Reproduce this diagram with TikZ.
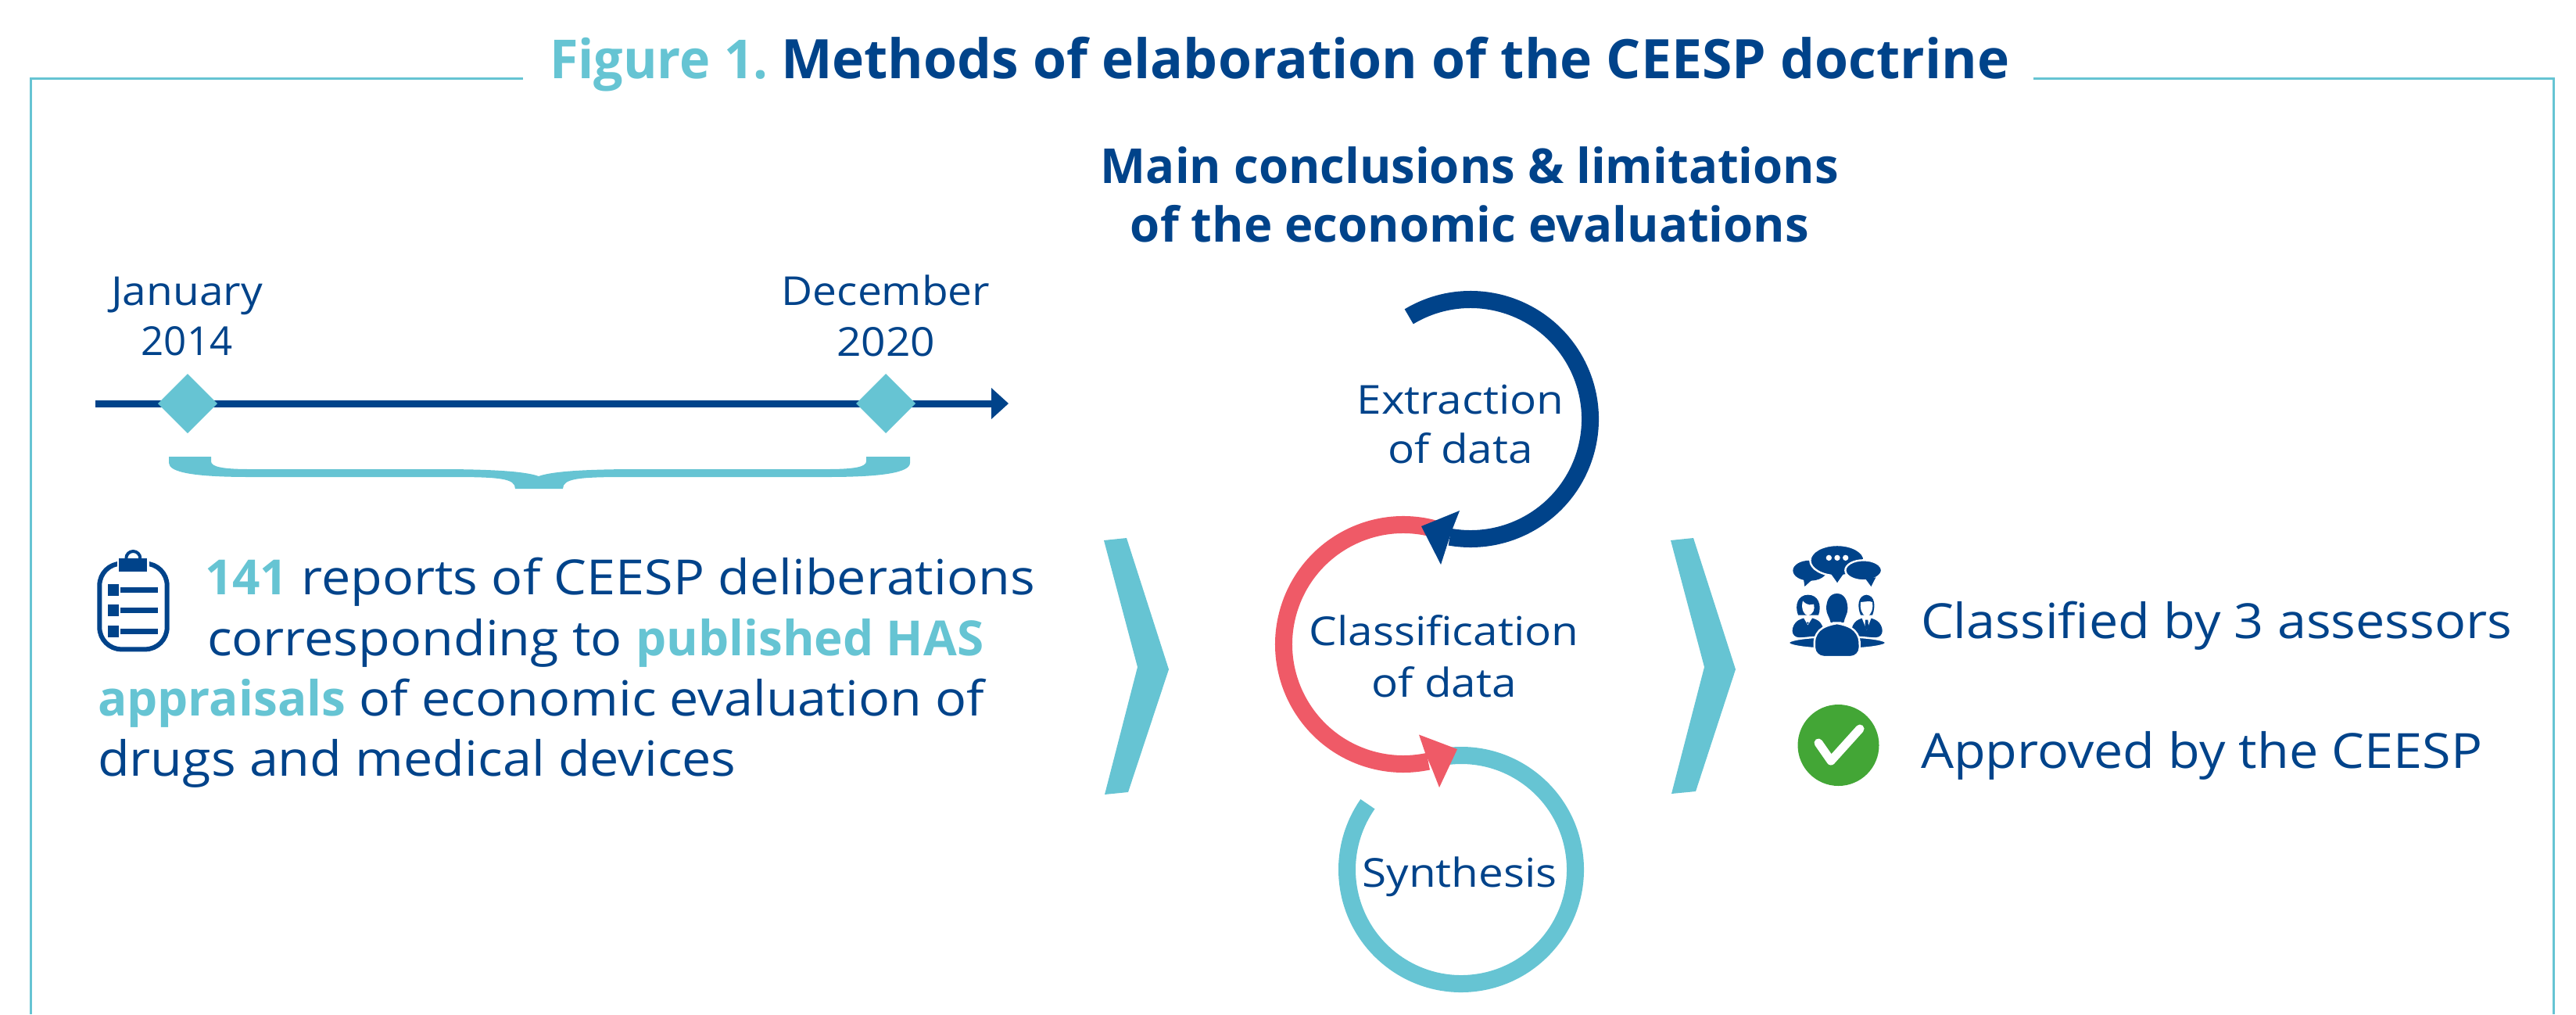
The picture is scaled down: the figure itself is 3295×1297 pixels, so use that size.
\documentclass[tikz,border=0pt]{standalone}
\usepackage{fontspec}
\setmainfont{Open Sans}
\newfontfamily\bodyf[FakeStretch=1.072]{Open Sans}
\newfontfamily\datef[FakeStretch=1.08]{Open Sans}
\newfontfamily\ringf[FakeStretch=1.11]{Open Sans}
\newfontfamily\figf[FakeStretch=0.965]{Open Sans}
\definecolor{navy}{HTML}{00438A}
\definecolor{teal2}{HTML}{66C4D3}
\definecolor{coral}{HTML}{EF5A67}
\definecolor{okgreen}{HTML}{43A636}
\tikzset{
  txt/.style={text=navy,inner sep=0pt,outer sep=0pt,anchor=base west,font=\fontsize{31}{38}\selectfont\bodyf},
  txtd/.style={text=navy,inner sep=0pt,outer sep=0pt,anchor=base,font=\fontsize{25.5}{32}\selectfont\datef},
  txtc/.style={text=navy,inner sep=0pt,outer sep=0pt,anchor=base,font=\fontsize{25.5}{32}\selectfont\ringf},
  head/.style={text=navy,inner sep=0pt,outer sep=0pt,anchor=base,font=\fontsize{30.8}{38}\selectfont\bfseries},
  ttl/.style={inner sep=0pt,outer sep=0pt,anchor=base west,font=\fontsize{34.8}{42}\selectfont\bfseries},
  ttlf/.style={inner sep=0pt,outer sep=0pt,anchor=base west,font=\fontsize{34.4}{42}\selectfont\figf\bfseries},
  framel/.style={draw=teal2,line width=1.5pt},
  ring/.style={line width=11pt},
  whiteedge/.style={draw=white,line width=1.2pt,fill=navy}
}
\newcommand{\tl}[1]{\textcolor{teal2}{\rmfamily\bfseries #1}}
\begin{document}
\begin{tikzpicture}[x=0.5pt,y=-0.5pt]
\useasboundingbox (0,0) rectangle (3295,1297);
% frame
\coordinate (fa) at (39,1297); \coordinate (fb) at (39,100); \coordinate (fc) at (669,100);
\coordinate (fd) at (2601,100); \coordinate (fe) at (3266,100); \coordinate (ff) at (3266,1297);
\draw[framel,line join=miter] (fa) -- (fb) -- (fc);
\draw[framel,line join=miter] (fd) -- (fe) -- (ff);
% title
\node[ttlf,text=teal2] (title1) at (703,100) {Figure 1.};
\node[ttl,text=navy] (title2) at (999,100) {Methods of elaboration of the CEESP doctrine};
% heading
\node[head] (h1) at (1880,234) {Main conclusions \& limitations};
\node[head] (h2) at (1880,309) {of the economic evaluations};
% timeline
\coordinate (tls) at (122,516); \coordinate (tlb) at (1270,516);
\draw[navy,line width=4.5pt] (tls) -- (tlb);
\fill[navy] (1268,496) -- (1290,516) -- (1268,536) -- cycle;
\fill[teal2] (240,478) -- (278,516) -- (240,554) -- (202,516) -- cycle;
\fill[teal2] (1133,478) -- (1171,516) -- (1133,554) -- (1095,516) -- cycle;
\node[txtd] (d1) at (239,390) {January};
\node[txtd] (d2) at (239,454) {\rmfamily 2014};
\node[txtd] (d3) at (1133,390) {December};
\node[txtd] (d4) at (1133,455) {2020};
% brace
\fill[teal2] (216,584) -- (270,584) -- (270,590) .. controls (270,597) and (285,600) .. (320,600)
 -- (560,600) .. controls (620,600) and (670,602) .. (689,609)
 .. controls (708,602) and (758,600) .. (818,600) -- (1058,600)
 .. controls (1093,600) and (1108,597) .. (1108,590) -- (1108,584) -- (1164,584) -- (1164,592)
 .. controls (1164,604) and (1130,610) .. (1058,610) -- (800,610)
 .. controls (740,610) and (720,612) .. (720,625) -- (659,625)
 .. controls (659,612) and (640,610) .. (578,610) -- (320,610)
 .. controls (248,610) and (216,604) .. (216,592) -- cycle;
% clipboard
\begin{scope}[shift={(100,690)},x=0.16667pt,y=-0.16667pt]
 \draw[navy,line width=3pt,rounded corners=14pt] (82,92) rectangle (341,421);
 \fill[white] (149,60) rectangle (273,130);
 \draw[navy,line width=2pt] (184,72) arc[start angle=180,end angle=360,radius=27];
 \fill[navy] (157,72) rectangle (265,123);
 \fill[navy] (114,171) rectangle (157,216);
 \fill[navy] (114,249) rectangle (157,294);
 \fill[navy] (114,330) rectangle (157,375);
 \fill[navy] (162,183) rectangle (306,204);
 \fill[navy] (162,261) rectangle (306,282);
 \fill[navy] (162,342) rectangle (306,363);
\end{scope}
% body text
\node[txt] (b1) at (262,760.5) {\tl{141} reports of CEESP deliberations};
\node[txt] (b2) at (265,838) {corresponding to \tl{published HAS}};
\node[txt] (b3) at (125,915.5) {\tl{appraisals} of economic evaluation of};
\node[txt] (b4) at (125,992) {drugs and medical devices};
% chevrons
\fill[teal2] (1412,691) -- (1441,688) -- (1495,856) -- (1443,1013) -- (1413,1016) -- (1455,853) -- cycle;
\fill[teal2] (2137,691) -- (2166,688) -- (2220,856) -- (2169,1012) -- (2138,1015) -- (2180,853) -- cycle;
% rings
\draw[teal2,ring] (1869,1112) ++(-96:146) arc[start angle=-96,end angle=215,radius=146];
\draw[coral,ring] (1795,824) ++(-74:153) arc[start angle=-74,end angle=-282,radius=153];
\fill[coral] (1815,939.5) -- (1864,958) -- (1841,1007) -- (1832,984) -- (1823,963) -- cycle;
\draw[navy,ring] (1881,536) ++(-121:153) arc[start angle=-121,end angle=100,radius=153];
\fill[navy] (1867,653) -- (1818,673) -- (1843,722) -- (1851,697) -- (1858,676) -- cycle;
\node[txtc] (r1) at (1868,529) {Extraction};
\node[txtc] (r2) at (1868,592) {of data};
\node[txtc] (r3) at (1847,825) {Classification};
\node[txtc] (r4) at (1847,891) {of data};
\node[txtc] (r5) at (1867,1134) {Synthesis};
% people icon
\begin{scope}[shift={(2280,690)},x=0.16667pt,y=-0.16667pt]
 % bubbles
 \fill[navy] (105,119) ellipse[x radius=65,y radius=39];
 \fill[navy] (80,145) -- (85,180) -- (118,150) -- cycle;
 \fill[navy] (190,125) -- (210,165) -- (232,125) -- cycle;
 \draw[whiteedge] (210,80) ellipse[x radius=104,y radius=59];
 \fill[navy] (185,130) -- (210,165) -- (235,130) -- cycle;
 \draw[whiteedge] (311,118) ellipse[x radius=70,y radius=39];
 \fill[navy] (318,150) -- (340,180) -- (358,145) -- cycle;
 \fill[white] (178,70) circle[radius=11] (210,70) circle[radius=11] (242,70) circle[radius=11];
 % left person
 \fill[navy] (60,290) .. controls (45,250) and (60,212) .. (98,212) .. controls (136,212) and (152,250) .. (138,290) -- cycle;
 \fill[white] (98,292) .. controls (75,285) and (72,255) .. (78,235) .. controls (95,255) and (110,250) .. (120,248) .. controls (125,270) and (118,285) .. (98,292) -- cycle;
 \fill[navy,rounded corners=4pt] (38,375) -- (38,325) -- (78,298) -- (118,298) -- (157,325) -- (157,375) -- cycle;
 \fill[white] (78,295) -- (97,328) -- (118,295) -- cycle;
 \fill[navy] (97,320) circle[radius=4];
 % right person
 \fill[navy] (322,212) .. controls (290,215) and (285,255) .. (300,290) -- (345,290) .. controls (358,255) and (355,215) .. (322,212) -- cycle;
 \fill[white] (323,296) .. controls (300,285) and (297,262) .. (300,240) .. controls (320,238) and (335,235) .. (345,240) .. controls (348,262) and (345,285) .. (323,296) -- cycle;
 \fill[navy,rounded corners=4pt] (265,375) -- (265,325) -- (303,298) -- (342,298) -- (383,325) -- (383,375) -- cycle;
 \fill[white] (303,297) -- (323,348) -- (342,297) -- cycle;
 \fill[navy] (318,308) -- (328,308) -- (330,335) -- (323,348) -- (316,335) -- cycle;
 % table
 \draw[whiteedge] (210,396) ellipse[x radius=187,y radius=24];
 % centre person
 \fill[navy] (209,207) .. controls (180,207) and (168,235) .. (168,265) .. controls (168,285) and (182,300) .. (185,318) -- (235,318) .. controls (238,300) and (250,285) .. (250,265) .. controls (250,235) and (238,207) .. (209,207) -- cycle;
 \draw[whiteedge,rounded corners=6pt] (122,356) -- (190,320) -- (228,320) -- (295,356) -- (297,450) -- (123,450) -- cycle;
\end{scope}
% check
\fill[okgreen] (2351.5,953) circle[radius=52];
\coordinate (c1) at (2326,950); \coordinate (c2) at (2342,973); \coordinate (c3) at (2379,932);
\draw[white,line width=5.5pt,line join=round,line cap=round] (c1) -- (c2) -- (c3);
% right text
\node[txt] (t1) at (2457,816) {Classified by 3 assessors};
\node[txt] (t2) at (2457,982) {Approved by the CEESP};
\end{tikzpicture}
\end{document}
